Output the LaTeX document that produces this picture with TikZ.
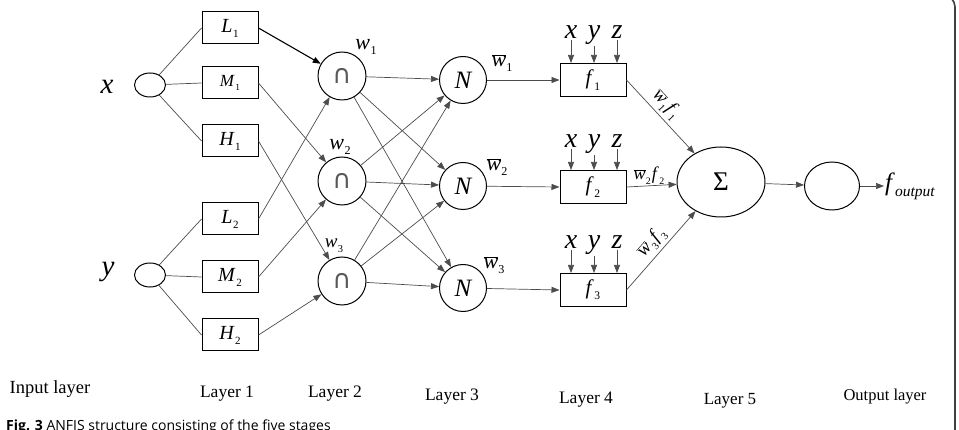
\documentclass[tikz,border=0pt]{standalone}
\usepackage{fontspec}
\setmainfont{Liberation Serif}
\newfontfamily\capfont{Open Sans}
\newfontfamily\symfont{DejaVu Sans}
\usetikzlibrary{arrows.meta,shapes.geometric}

\newcommand\low[2]{\textit{#1}\kern.5pt\raisebox{-.25em}{\scalebox{.55}{#2}}}
\newcommand\wb{$\overline{\mbox{\textit{w}}}$}
\newcommand\wf[1]{\wb\kern.3pt\raisebox{-.25em}{\scalebox{.55}{#1}}\kern1pt\low{f}{#1}}

\begin{document}
\begin{tikzpicture}[x=1pt,y=-1pt,
  mf/.style={draw,line width=1pt,minimum width=56pt,minimum height=32pt,inner sep=0pt,font=\fontsize{20}{20}\selectfont},
  rule/.style={draw,circle,line width=1pt,minimum size=48pt,inner sep=0pt,text=black!65,font=\symfont\fontsize{26}{26}\selectfont},
  norm/.style={draw,circle,line width=1pt,minimum size=47pt,inner sep=0pt,font=\fontsize{25}{25}\selectfont\itshape},
  cons/.style={draw,line width=1pt,minimum width=66pt,minimum height=33pt,inner sep=0pt,font=\fontsize{21}{21}\selectfont},
  oval/.style={draw,ellipse,line width=1pt,inner sep=0pt},
  link/.style={draw=black!70,line width=.7pt},
  arr/.style={link,-{Triangle[length=8pt,width=6pt]}},
  var/.style={inner sep=1pt,font=\fontsize{28}{28}\selectfont\itshape},
  wt/.style={inner sep=0pt,font=\fontsize{22}{22}\selectfont},
  lay/.style={anchor=base,inner sep=0pt,font=\fontsize{17.5}{20}\selectfont}]
\useasboundingbox (0,0) rectangle (959,430);
\draw[line width=1.6pt,draw=black!75,rounded corners=12pt] (-20,-5) rectangle (955,480);

\node[oval,minimum width=31pt,minimum height=24pt] (xin) at (150,85) {};
\node[oval,minimum width=31pt,minimum height=24pt] (yin) at (150,275) {};
\node[var,font=\fontsize{29}{29}\selectfont\itshape] (xl) at (107,87) {x};
\node[var,font=\fontsize{29}{29}\selectfont\itshape] (yl) at (108,272) {y};

\node[mf] (L1) at (230,28) {\low{L}{1}};
\node[mf,font=\fontsize{17}{17}\selectfont] (M1) at (230,83) {\low{M}{1}};
\node[mf] (H1) at (230,141) {\low{H}{1}};
\node[mf] (L2) at (230,219) {\low{L}{2}};
\node[mf] (M2) at (230,277) {\low{M}{2}};
\node[mf] (H2) at (230,335) {\low{H}{2}};

\node[rule] (r1) at (342,76) {∩};
\node[rule] (r2) at (342,181) {∩};
\node[rule] (r3) at (342,281) {∩};
\node[wt] (w1) at (366,47) {\low{w}{1}};
\node[wt] (w2) at (340,147) {\low{w}{2}};
\node[wt,font=\fontsize{19}{19}\selectfont] (w3) at (334,246) {\low{w}{3}};

\node[norm] (n1) at (463,80) {N};
\node[norm] (n2) at (463,186) {N};
\node[norm] (n3) at (463,288) {N};
\node[wt] (wb1) at (502,63) {\wb\raisebox{-.25em}{\scalebox{.55}{1}}};
\node[wt] (wb2) at (497,167) {\wb\raisebox{-.25em}{\scalebox{.55}{2}}};
\node[wt] (wb3) at (494,265) {\wb\raisebox{-.25em}{\scalebox{.55}{3}}};

\node[cons] (f1) at (593,80) {\low{f}{1}};
\node[cons] (f2) at (593,187) {\low{f}{2}};
\node[cons] (f3) at (593,290) {\low{f}{3}};

\node[oval,minimum width=88pt,minimum height=70pt,font=\fontsize{27}{27}\selectfont] (sum) at (721,182) {Σ};
\node[oval,minimum width=55pt,minimum height=48pt] (out) at (832,186) {};
\node[anchor=west,inner sep=1pt,font=\fontsize{25}{25}\selectfont] (fout) at (884,186) {\textit{f}\raisebox{-.25em}{\scalebox{.62}{\textit{output}}}};

\foreach \b in {L1,M1,H1} \draw[link] (xin) -- (\b.west);
\foreach \b in {L2,M2,H2} \draw[link] (yin) -- (\b.west);
\draw[arr,draw=black,line width=1.1pt] (L1.east) -- (r1);
\draw[arr] (M1.east) -- (r2);
\draw[arr] (H1.east) -- (r3);
\draw[arr] (L2.east) -- (r1);
\draw[arr] (M2.east) -- (r2);
\draw[arr] (H2.east) -- (r3);
\foreach \i in {1,2,3} \foreach \j in {1,2,3} \draw[arr] (r\i) -- (n\j);
\foreach \i in {1,2,3} \draw[arr] (n\i) -- (f\i.west);

\foreach \i/\b in {1/39,2/148,3/249}
  \foreach \c/\px in {x/571,y/594,z/617} {
    \node[var,anchor=base] (\c\i) at (\px,\b) {\c};
    \draw[arr] (\c\i.south) -- (\c\i.south |- f\i.north);
  }

\draw[arr] (f1.east) -- node[sloped,above,pos=.45,inner sep=3pt,font=\fontsize{19}{19}\selectfont] {\wf{1}} (sum);
\draw[arr] (f2.east) -- node[above,pos=.45,inner sep=1pt,font=\fontsize{18}{18}\selectfont] {\wf{2}} (sum);
\draw[arr] (f3.east) -- node[sloped,above,pos=.5,inner sep=3pt,font=\fontsize{19}{19}\selectfont] {\wf{3}} (sum);
\draw[arr] (sum) -- (out);
\draw[arr] (out) -- (fout);

\node[lay,font=\fontsize{18.5}{20}\selectfont] (l0) at (50,393) {Input layer};
\node[lay] (l1) at (227,397) {Layer 1};
\node[lay] (l2) at (335,397) {Layer 2};
\node[lay] (l3) at (452,400) {Layer 3};
\node[lay] (l4) at (586,403) {Layer 4};
\node[lay,font=\fontsize{17}{20}\selectfont] (l5) at (730,404) {Layer 5};
\node[lay,font=\fontsize{16.5}{20}\selectfont] (l6) at (885,401) {Output layer};

\node[anchor=base west,inner sep=0pt,font=\capfont\fontsize{14}{16}\selectfont] (cap) at (6,431) {\textbf{Fig. 3} ANFIS structure consisting of the five stages};
\end{tikzpicture}
\end{document}
